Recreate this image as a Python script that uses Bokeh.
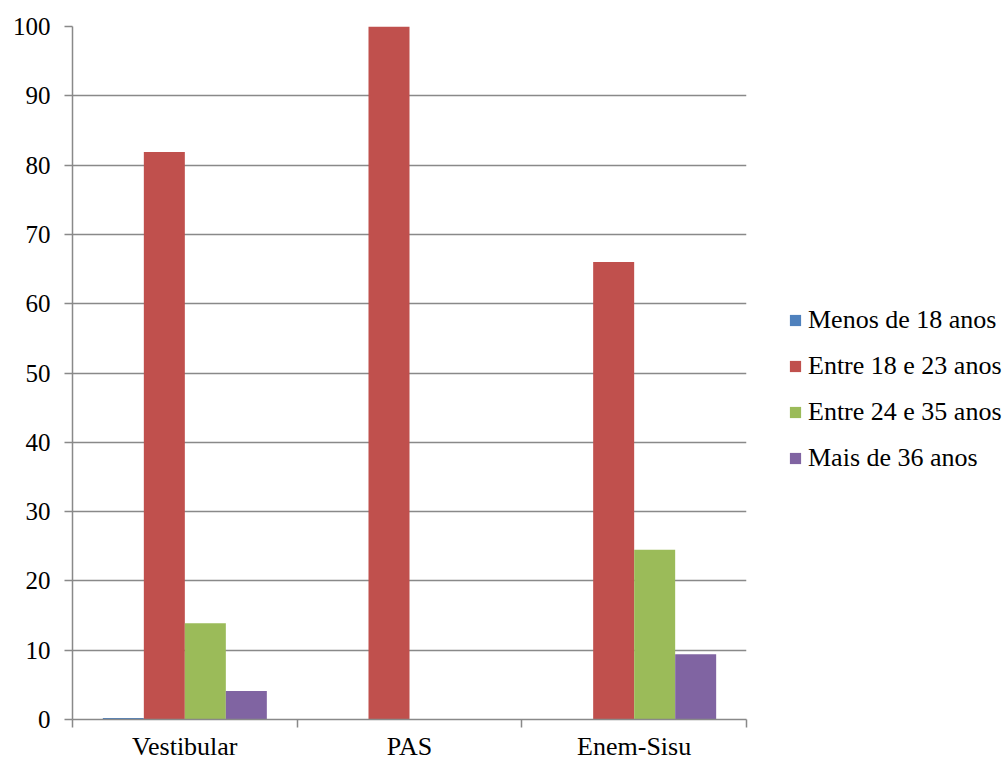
from bokeh.plotting import figure
from bokeh.models import ColumnDataSource, FixedTicker, Range1d, Legend, LegendItem
from bokeh.transform import dodge
from bokeh.embed import file_html
from bokeh.resources import INLINE

categories = ["Vestibular", "PAS", "Enem-Sisu"]
series_names = ["Menos de 18 anos", "Entre 18 e 23 anos", "Entre 24 e 35 anos", "Mais de 36 anos"]
menos_18 = [0.2, 0.0, 0.0]
entre_18_23 = [81.9, 100.0, 66.0]
entre_24_35 = [13.9, 0.0, 24.5]
mais_36 = [4.1, 0.0, 9.4]
colors = ["#4F81BD", "#C0504D", "#9BBB59", "#8064A2"]
y_ticks = list(range(0, 101, 10))

FONT = "'Liberation Serif', 'Times New Roman', serif"
GRID = "#898989"

xpos = [i + 0.5 for i in range(len(categories))]
source = ColumnDataSource(dict(x=xpos, s0=menos_18, s1=entre_18_23, s2=entre_24_35, s3=mais_36))

p = figure(frame_width=674, frame_height=693, output_backend="svg", toolbar_location=None,
           x_range=Range1d(0, 3), y_range=Range1d(0, 100),
           min_border_left=72, min_border_top=26, min_border_right=0, min_border_bottom=5)
p.outline_line_color = None
p.background_fill_color = "white"

w = 0.1825
offsets = [-1.5 * w, -0.5 * w, 0.5 * w, 1.5 * w]
renderers = []
for k, (col, c) in enumerate(zip(["s0", "s1", "s2", "s3"], colors)):
    r = p.vbar(x=dodge("x", offsets[k], range=p.x_range), top=col, width=w, bottom=0,
               source=source, fill_color=c, line_color=None)
    renderers.append(r)

# x axis: labels at category centres, ticks at boundaries (minor ticks)
p.xaxis.ticker = FixedTicker(ticks=xpos, minor_ticks=[0, 1, 2, 3])
p.xaxis.major_label_overrides = {x: c for x, c in zip(xpos, categories)}
p.xaxis.major_tick_out = 0
p.xaxis.major_tick_in = 0
p.xaxis.minor_tick_out = 8
p.xaxis.minor_tick_in = 0
p.xaxis.minor_tick_line_color = GRID
p.xaxis.minor_tick_line_width = 1.5
p.xaxis.axis_line_color = GRID
p.xaxis.axis_line_width = 1.5
p.xaxis.major_label_standoff = 4
p.xaxis.major_label_text_font = FONT
p.xaxis.major_label_text_font_size = "26px"
p.xaxis.major_label_text_color = "black"

p.yaxis.ticker = FixedTicker(ticks=y_ticks, minor_ticks=[])
p.yaxis.major_tick_out = 8
p.yaxis.major_tick_in = 0
p.yaxis.major_tick_line_color = GRID
p.yaxis.major_tick_line_width = 1.5
p.yaxis.axis_line_color = GRID
p.yaxis.axis_line_width = 1.5
p.yaxis.major_label_standoff = 14
p.yaxis.major_label_text_font = FONT
p.yaxis.major_label_text_font_size = "25px"
p.yaxis.major_label_text_color = "black"

p.xgrid.grid_line_color = None
p.ygrid.grid_line_color = GRID
p.ygrid.grid_line_width = 1.5

legend = Legend(items=[LegendItem(label=n, renderers=[r]) for n, r in zip(series_names, renderers)],
                location=(42, 246), orientation="vertical")
legend.border_line_color = None
legend.background_fill_alpha = 0
legend.padding = 0
legend.margin = 0
legend.spacing = 16
legend.glyph_width = 14
legend.glyph_height = 14
legend.label_standoff = 6
legend.label_text_font = FONT
legend.label_text_font_size = "26px"
legend.label_text_color = "black"
legend.label_text_baseline = "middle"
p.add_layout(legend, "right")

open("out.html", "w").write(file_html(p, INLINE))
